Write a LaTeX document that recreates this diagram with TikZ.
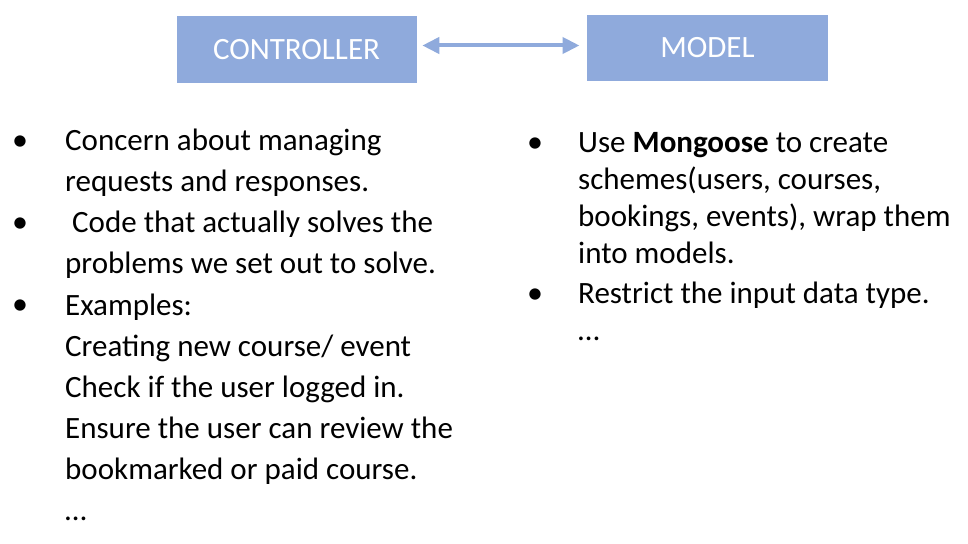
\documentclass[tikz,border=0pt]{standalone}
\usepackage{fontspec}
\setmainfont{Carlito}
\usetikzlibrary{arrows.meta,positioning}
\definecolor{boxblue}{HTML}{8FAADC}

\begin{document}
\begin{tikzpicture}[x=1pt, y=-1pt,
            box/.style = {fill=boxblue, text=white, inner sep=0pt,
                minimum height=66pt, font=\fontsize{31}{36}\selectfont},
            link/.style = {boxblue, line width=4pt,
                {Triangle[length=17pt,width=16pt]}-{Triangle[length=17pt,width=16pt]}},
            lefttext/.style = {anchor=base west, align=left, inner sep=0pt,
                font=\fontsize{31}{41}\selectfont},
            righttext/.style = {anchor=base west, align=left, inner sep=0pt,
                font=\fontsize{31}{37}\selectfont},
            dot/.style = {anchor=base, inner sep=0pt, font=\fontsize{32}{41}\selectfont}
            ]
            \useasboundingbox (0,0) rectangle (968,543);
            \node[box, minimum width=240pt] (ctrl) at (296.5,49.5) {CONTROLLER};
            \node[box, minimum width=241pt] (model) at (707.5,48) {MODEL};
            \draw[link, shorten <=5.6pt, shorten >=7.3pt]
                ([yshift=4pt]ctrl.east) -- ([yshift=4pt]ctrl.east -| model.west);

            \node[dot] (b1) at (20,150) {•};
            \node[dot] (b2) at (20,232) {•};
            \node[dot] (b3) at (20,314) {•};
            \node[lefttext] (concern) at (65,191) {Concern about managing\\requests and responses.};
            \node[lefttext] (code) at (65,273) {\ Code that actually solves the\\problems we set out to solve.};
            \node[lefttext] (examples) at (65,520) {Examples:\\Creating new course/ event\\Check if the user logged in.\\Ensure the user can review the\\bookmarked or paid course.\\…};

            \node[dot] (b4) at (535,152) {•};
            \node[dot] (b5) at (535,303) {•};
            \node[righttext] (mongoose) at (578,263) {Use \textbf{Mongoose} to create\\schemes(users, courses,\\bookings, events), wrap them\\into models.};
            \node[righttext] (restrict) at (578,340) {Restrict the input data type.\\…};
\end{tikzpicture}
\end{document}
